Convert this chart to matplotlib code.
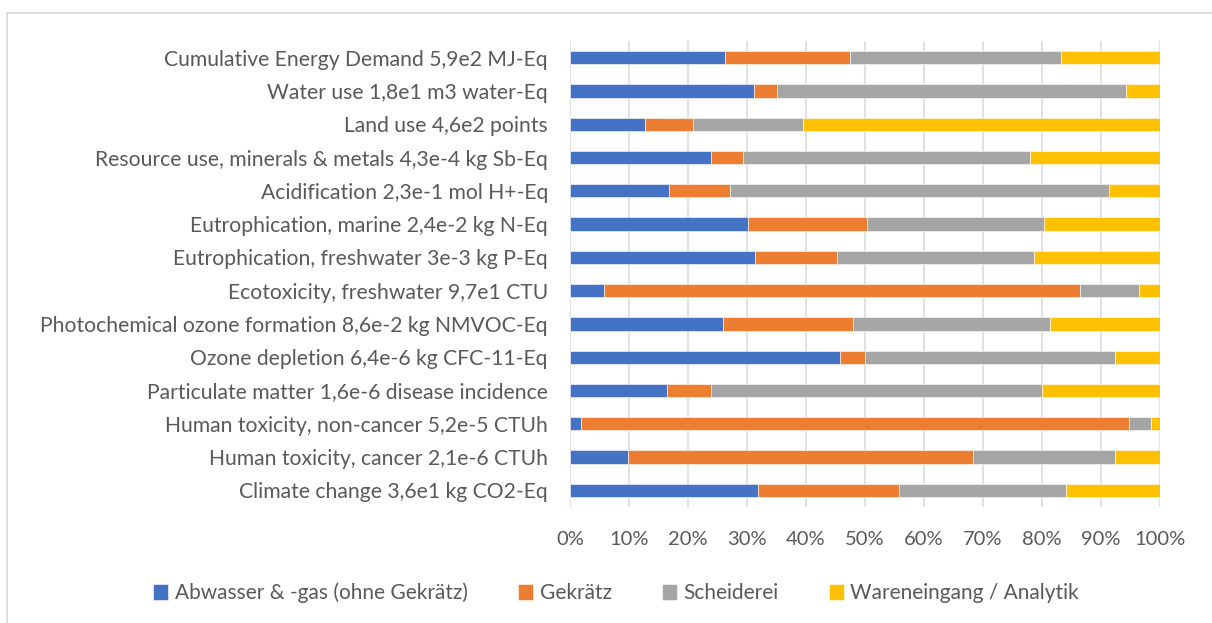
import matplotlib
matplotlib.use("Agg")
import matplotlib.pyplot as plt
from matplotlib.ticker import PercentFormatter
from matplotlib.lines import Line2D

# categories top to bottom, as in the chart
categories = [
    "Cumulative Energy Demand 5,9e2 MJ-Eq",
    "Water use 1,8e1 m3 water-Eq",
    "Land use 4,6e2 points",
    "Resource use, minerals & metals 4,3e-4 kg Sb-Eq",
    "Acidification 2,3e-1 mol H+-Eq",
    "Eutrophication, marine 2,4e-2 kg N-Eq",
    "Eutrophication, freshwater 3e-3 kg P-Eq",
    "Ecotoxicity, freshwater 9,7e1 CTU",
    "Photochemical ozone formation 8,6e-2 kg NMVOC-Eq",
    "Ozone depletion 6,4e-6 kg CFC-11-Eq",
    "Particulate matter 1,6e-6 disease incidence",
    "Human toxicity, non-cancer 5,2e-5 CTUh",
    "Human toxicity, cancer 2,1e-6 CTUh",
    "Climate change 3,6e1 kg CO2-Eq",
]

series_names = ["Abwasser & -gas (ohne Gekrätz)", "Gekrätz", "Scheiderei",
                "Wareneingang / Analytik"]

# shares in percent
abwasser = [26.3, 31.2, 12.7, 23.9, 16.7, 30.2, 31.4, 5.8, 25.9, 45.7, 16.4, 1.9, 9.9, 31.8]
gekraetz = [21.2, 3.9, 8.1, 5.5, 10.5, 20.1, 13.9, 80.7, 22.0, 4.3, 7.5, 92.9, 58.4, 23.9]
scheiderei = [35.8, 59.2, 18.7, 48.6, 64.2, 30.1, 33.3, 10.0, 33.5, 42.4, 56.1, 3.7, 24.0, 28.4]
wareneingang = [16.7, 5.7, 60.5, 22.0, 8.6, 19.6, 21.4, 3.5, 18.6, 7.6, 20.0, 1.5, 7.7, 15.9]

colors = ["#4472C4", "#ED7D31", "#A5A5A5", "#FFC000"]
text_col = "#595959"

plt.rcParams['font.family'] = ['Lato', 'DejaVu Sans']

fig = plt.figure(figsize=(12.12, 6.23), dpi=100)
ax = fig.add_axes([570 / 1212, 1 - 507 / 623, 590 / 1212, 466 / 623])

# chart border (only left/top visible in the picture)
fig.add_artist(Line2D([7 / 1212, 7 / 1212], [0, 1 - 13 / 623], transform=fig.transFigure,
                      color="#D9D9D9", lw=1.2))
fig.add_artist(Line2D([7 / 1212, 1], [1 - 13 / 623, 1 - 13 / 623], transform=fig.transFigure,
                      color="#D9D9D9", lw=1.2))

ypos = list(range(len(categories)))
left = [0.0] * len(categories)
total = [a + b + g + w for a, b, g, w in zip(abwasser, gekraetz, scheiderei, wareneingang)]
for name, vals, c in zip(series_names, [abwasser, gekraetz, scheiderei, wareneingang], colors):
    share = [v / t * 100 for v, t in zip(vals, total)]
    ax.barh(ypos, share, left=left, height=0.4, color=c, label=name,
            edgecolor="white", linewidth=0.4, zorder=3)
    left = [l + s for l, s in zip(left, share)]

ax.set_xlim(0, 100)
ax.set_ylim(len(categories) - 0.5, -0.5)
ax.set_xticks(range(0, 101, 10))
ax.xaxis.set_major_formatter(PercentFormatter(decimals=0))
ax.set_yticks(ypos)
ax.set_yticklabels(categories)
ax.grid(axis="x", color="#D9D9D9", lw=1.1, zorder=0)
for s in ax.spines.values():
    s.set_visible(False)
ax.tick_params(axis="both", length=0, colors=text_col)
ax.tick_params(axis="y", pad=16, labelsize=15.2)
ax.tick_params(axis="x", pad=17, labelsize=14.5)

handles, labels = ax.get_legend_handles_labels()
leg = fig.legend(handles, labels, ncol=4, loc="center", bbox_to_anchor=(616 / 1212, 1 - 593 / 623),
                 frameon=False, fontsize=15, handlelength=0.75, handleheight=0.75,
                 handletextpad=0.3, columnspacing=2.4)
for t in leg.get_texts():
    t.set_color(text_col)

fig.savefig("out.png", dpi=100)
